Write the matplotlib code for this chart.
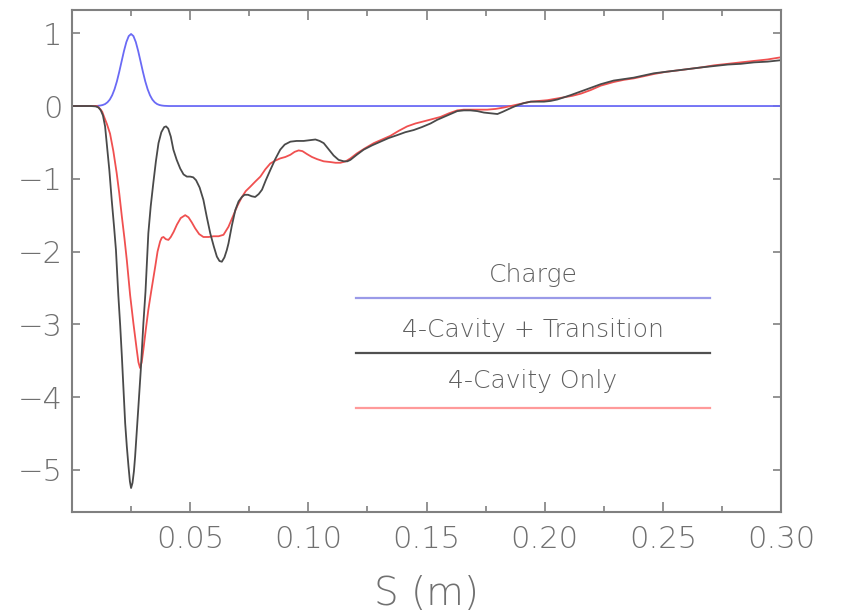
import matplotlib
matplotlib.use("Agg")
import matplotlib.pyplot as plt
from matplotlib.ticker import MultipleLocator, FixedLocator

# ---------------- data ----------------
charge_s = [0.000, 0.010, 0.011, 0.012, 0.013, 0.014, 0.015, 0.016, 0.017, 0.018, 0.019,
            0.020, 0.021, 0.022, 0.023, 0.024, 0.025, 0.026, 0.027, 0.028, 0.029,
            0.030, 0.031, 0.032, 0.033, 0.034, 0.035, 0.036, 0.037, 0.038, 0.039, 0.041, 0.300]
charge_v = [0.0, 0.0, 0.003, 0.007, 0.014, 0.027, 0.051, 0.089, 0.148, 0.231, 0.339,
            0.471, 0.615, 0.757, 0.879, 0.961, 0.99, 0.961, 0.879, 0.757, 0.615,
            0.471, 0.339, 0.231, 0.148, 0.089, 0.051, 0.027, 0.014, 0.007, 0.003, 0.0, 0.0]

trans_s = [0.000, 0.008, 0.0100, 0.0112, 0.0122, 0.0131, 0.0140, 0.0147, 0.0158, 0.0168,
           0.0178, 0.0186, 0.0196, 0.0204, 0.0211, 0.0218, 0.0225, 0.0232, 0.0239, 0.0245,
           0.0250, 0.0256, 0.0262, 0.0267, 0.0274, 0.0281, 0.0291, 0.0302, 0.0311, 0.0323,
           0.0333, 0.0344, 0.0355, 0.0366, 0.0378, 0.0390, 0.0398, 0.0407, 0.0418, 0.0429,
           0.0443, 0.0458, 0.0472, 0.0486, 0.0500, 0.0513, 0.0525, 0.0540, 0.0556, 0.0570,
           0.0585, 0.0600, 0.0613, 0.0624, 0.0634, 0.0645, 0.0655, 0.0662, 0.0676, 0.0691,
           0.0705, 0.0719, 0.0730, 0.0745, 0.0760, 0.0775, 0.0790, 0.0804, 0.0820, 0.0839,
           0.0860, 0.0881, 0.0900, 0.0924, 0.0950, 0.0980, 0.1005, 0.1030, 0.1048, 0.1065,
           0.1085, 0.1107, 0.1128, 0.1150, 0.1165, 0.1178, 0.1205, 0.1234, 0.1270, 0.1305,
           0.1340, 0.1376, 0.1410, 0.1446, 0.1480, 0.1517, 0.1545, 0.1573, 0.1600, 0.1630,
           0.1658, 0.1686, 0.1715, 0.1743, 0.1772, 0.1800, 0.1822, 0.1842, 0.1862, 0.1884,
           0.1912, 0.1941, 0.1970, 0.1997, 0.2025, 0.2054, 0.2082, 0.2110, 0.2153, 0.2195,
           0.2237, 0.2292, 0.2335, 0.2377, 0.2420, 0.2462, 0.2513, 0.2564, 0.2612, 0.2661,
           0.2718, 0.2775, 0.2830, 0.2886, 0.2943, 0.3000]
trans_v = [0.0, 0.0, -0.005, -0.02, -0.06, -0.13, -0.28, -0.51, -0.88, -1.29,
           -1.66, -1.98, -2.60, -3.02, -3.44, -3.90, -4.36, -4.68, -4.95, -5.16,
           -5.25, -5.18, -5.02, -4.82, -4.48, -4.13, -3.63, -2.99, -2.55, -1.75,
           -1.38, -1.06, -0.76, -0.51, -0.36, -0.29, -0.28, -0.31, -0.42, -0.60,
           -0.74, -0.86, -0.94, -0.97, -0.97, -0.98, -1.02, -1.12, -1.29, -1.52,
           -1.75, -1.93, -2.07, -2.13, -2.14, -2.08, -1.98, -1.89, -1.65, -1.43,
           -1.31, -1.25, -1.22, -1.22, -1.24, -1.25, -1.21, -1.15, -1.02, -0.88,
           -0.73, -0.60, -0.53, -0.49, -0.48, -0.48, -0.47, -0.46, -0.48, -0.51,
           -0.59, -0.68, -0.74, -0.76, -0.76, -0.74, -0.67, -0.60, -0.54, -0.49,
           -0.44, -0.40, -0.36, -0.33, -0.29, -0.24, -0.19, -0.15, -0.11, -0.07,
           -0.06, -0.06, -0.07, -0.09, -0.10, -0.11, -0.08, -0.05, -0.02, 0.01,
           0.04, 0.06, 0.06, 0.06, 0.07, 0.09, 0.12, 0.15, 0.20, 0.25,
           0.30, 0.35, 0.37, 0.39, 0.42, 0.45, 0.47, 0.49, 0.51, 0.53,
           0.55, 0.57, 0.58, 0.60, 0.61, 0.63]

only_s = [0.000, 0.0106, 0.0119, 0.0128, 0.0136, 0.0148, 0.0161, 0.0175, 0.0189, 0.0200,
          0.0211, 0.0222, 0.0232, 0.0246, 0.0260, 0.0274, 0.0281, 0.0288, 0.0295, 0.0302,
          0.0312, 0.0323, 0.0335, 0.0352, 0.0362, 0.0373, 0.0380, 0.0387, 0.0397, 0.0408,
          0.0418, 0.0430, 0.0444, 0.0460, 0.0479, 0.0493, 0.0507, 0.0521, 0.0538, 0.0556,
          0.0578, 0.0599, 0.0620, 0.0641, 0.0662, 0.0683, 0.0700, 0.0719, 0.0735, 0.0754,
          0.0775, 0.0797, 0.0818, 0.0839, 0.0860, 0.0881, 0.0903, 0.0924, 0.0942, 0.0959,
          0.0975, 0.0994, 0.1015, 0.1037, 0.1065, 0.1093, 0.1115, 0.1136, 0.1158, 0.1178,
          0.1206, 0.1240, 0.1277, 0.1312, 0.1347, 0.1383, 0.1418, 0.1453, 0.1489, 0.1524,
          0.1559, 0.1595, 0.1630, 0.1658, 0.1686, 0.1720, 0.1757, 0.1792, 0.1828, 0.1856,
          0.1884, 0.1912, 0.1941, 0.1976, 0.2011, 0.2046, 0.2082, 0.2117, 0.2153, 0.2195,
          0.2237, 0.2292, 0.2335, 0.2377, 0.2420, 0.2462, 0.2513, 0.2564, 0.2612, 0.2661,
          0.2718, 0.2775, 0.2830, 0.2886, 0.2943, 0.3000]
only_v = [0.0, 0.0, -0.04, -0.08, -0.15, -0.25, -0.38, -0.62, -0.92, -1.20,
          -1.52, -1.82, -2.12, -2.60, -2.99, -3.35, -3.52, -3.60, -3.52, -3.35,
          -3.08, -2.80, -2.55, -2.21, -2.00, -1.86, -1.81, -1.80, -1.83, -1.84,
          -1.80, -1.73, -1.63, -1.54, -1.50, -1.53, -1.60, -1.68, -1.76, -1.80,
          -1.80, -1.79, -1.79, -1.77, -1.66, -1.50, -1.37, -1.25, -1.17, -1.11,
          -1.04, -0.97, -0.87, -0.79, -0.75, -0.72, -0.70, -0.67, -0.63, -0.61,
          -0.62, -0.66, -0.70, -0.73, -0.76, -0.77, -0.78, -0.78, -0.76, -0.72,
          -0.65, -0.58, -0.51, -0.46, -0.41, -0.34, -0.28, -0.24, -0.21, -0.18,
          -0.15, -0.10, -0.06, -0.05, -0.05, -0.05, -0.05, -0.04, -0.02, 0.00,
          0.02, 0.04, 0.06, 0.07, 0.08, 0.10, 0.12, 0.14, 0.17, 0.22,
          0.28, 0.33, 0.36, 0.38, 0.41, 0.44, 0.47, 0.49, 0.51, 0.53,
          0.56, 0.58, 0.60, 0.62, 0.64, 0.67]

x_ticks = [0.05, 0.10, 0.15, 0.20, 0.25, 0.30]
x_tick_labels = ["0.05", "0.10", "0.15", "0.20", "0.25", "0.30"]
y_ticks = [1, 0, -1, -2, -3, -4, -5]
y_tick_labels = ["1", "0", "\u22121", "\u22122", "\u22123", "\u22124", "\u22125"]
legend_labels = ["Charge", "4-Cavity + Transition", "4-Cavity Only"]

# ---------------- styling ----------------
plt.rcParams['font.family'] = ['DejaVu Sans']
GRAY = "#808080"
TXT = "#707070"
C_BLUE = "#6a6af5"
C_BLACK = "#4a4a4a"
C_RED = "#f05050"

fig = plt.figure(figsize=(8.44, 6.16), dpi=100)
ax = fig.add_axes([0.0853, 0.1688, 0.8401, 0.8150])

ax.plot(charge_s, charge_v, color=C_BLUE, lw=1.3)
ax.plot(only_s, only_v, color=C_RED, lw=1.3)
ax.plot(trans_s, trans_v, color=C_BLACK, lw=1.3)

ax.set_xlim(0.0, 0.30)
ax.set_ylim(-5.58, 1.32)

ax.xaxis.set_major_locator(FixedLocator(x_ticks))
ax.set_xticklabels(x_tick_labels)
ax.xaxis.set_minor_locator(MultipleLocator(0.025))
ax.yaxis.set_major_locator(FixedLocator(y_ticks))
ax.set_yticklabels(y_tick_labels)

for s in ax.spines.values():
    s.set_color(GRAY)
    s.set_linewidth(1.5)

ax.tick_params(axis='x', which='major', direction='in', length=7.5, width=1.2,
               color=GRAY, top=True, bottom=True, labelsize=22, labelcolor=TXT, pad=9)
ax.tick_params(axis='x', which='minor', direction='in', length=4, width=1.2,
               color=GRAY, top=True, bottom=True)
ax.tick_params(axis='y', which='major', direction='in', length=5.5, width=1.2,
               color=GRAY, left=True, right=True, labelsize=22, labelcolor=TXT, pad=7)
for lab in ax.get_xticklabels() + ax.get_yticklabels():
    lab.set_fontweight('light')

ax.set_xlabel("S (m)", fontsize=28, color=TXT, fontweight='light')
ax.xaxis.set_label_coords(0.5, -0.125)

# legend drawn in axes coordinates
leg_x0, leg_x1, leg_xc = 0.4006, 0.900, 0.650
leg_line_y = [0.426, 0.317, 0.207]
leg_text_y = [0.459, 0.349, 0.247]
leg_colors = ["#9a9ae8", "#505050", "#ff9a9a"]
for lab, ly, ty, c in zip(legend_labels, leg_line_y, leg_text_y, leg_colors):
    ax.plot([leg_x0, leg_x1], [ly, ly], transform=ax.transAxes, color=c, lw=1.6)
    ax.text(leg_xc, ty, lab, transform=ax.transAxes, ha='center', va='baseline',
            fontsize=18, color="#606060", fontweight='light')

fig.savefig("out.png", dpi=100, facecolor="white")
